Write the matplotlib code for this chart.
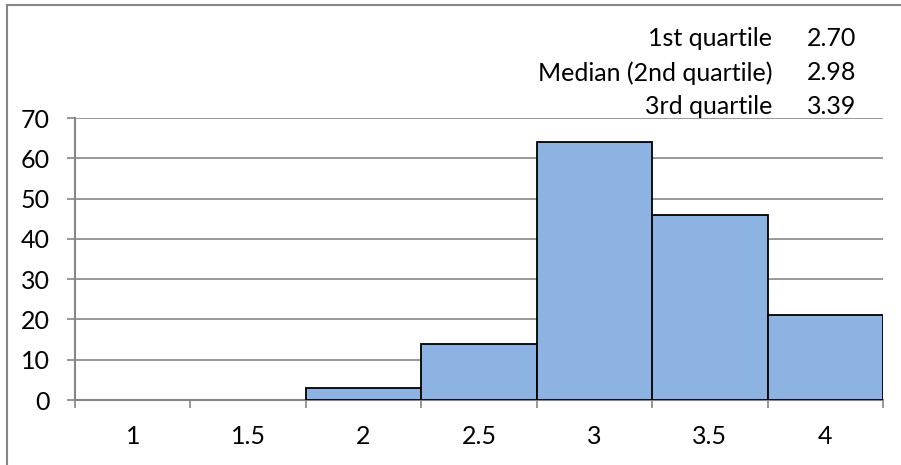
import matplotlib
matplotlib.use("Agg")
from matplotlib import pyplot as plt
from matplotlib.lines import Line2D

categories = ["1", "1.5", "2", "2.5", "3", "3.5", "4"]
counts = [0, 0, 3, 14, 64, 46, 21]

stat_names = ["1st quartile", "Median (2nd quartile)", "3rd quartile"]
stat_values = ["2.70", "2.98", "3.39"]

W, H = 901, 465
grey = "#868686"
fs = 18
plt.rcParams["font.family"] = ["Lato", "DejaVu Sans"]

fig = plt.figure(figsize=(W / 100, H / 100), dpi=100)
ax = fig.add_axes([75 / W, (H - 400) / H, (883 - 75) / W, (400 - 118) / H])

x = list(range(len(categories)))
widths = [0 if c == 0 else 1.3 for c in counts]
ax.bar(x, counts, width=1.0, color="#8DB3E2", edgecolor="black",
       linewidth=widths, zorder=3)

ax.set_xlim(-0.5, len(categories) - 0.5)
ax.set_ylim(0, 70)
ax.set_yticks(range(0, 71, 10))
ax.yaxis.grid(True, color=grey, linewidth=1.2, zorder=0)
ax.set_xticks(x)
ax.set_xticklabels(categories)
ax.set_xticks([i - 0.5 for i in range(len(categories) + 1)], minor=True)
ax.tick_params(axis="x", which="major", length=0, pad=18, labelsize=fs)
ax.tick_params(axis="x", which="minor", length=6, width=1.2, color=grey, direction="out")
ax.tick_params(axis="y", length=6, width=1.2, color=grey, pad=12, labelsize=fs)

for s in ["top", "right"]:
    ax.spines[s].set_visible(False)
for s in ["left", "bottom"]:
    ax.spines[s].set_color(grey)
    ax.spines[s].set_linewidth(1.5)

# outer chart frame (only top and left edges are visible)
fig.add_artist(Line2D([7 / W, 7 / W], [0, 1 - 5 / H], transform=fig.transFigure,
                      color=grey, linewidth=1.5))
fig.add_artist(Line2D([7 / W, 1], [1 - 5 / H, 1 - 5 / H], transform=fig.transFigure,
                      color=grey, linewidth=1.5))

rows_y = [38, 73, 106]
for name, val, yy in zip(stat_names, stat_values, rows_y):
    fig.text(772 / W, 1 - yy / H, name, ha="right", va="center", fontsize=fs)
    fig.text(807 / W, 1 - yy / H, val, ha="left", va="center", fontsize=fs)

fig.savefig("out.png", dpi=100)
